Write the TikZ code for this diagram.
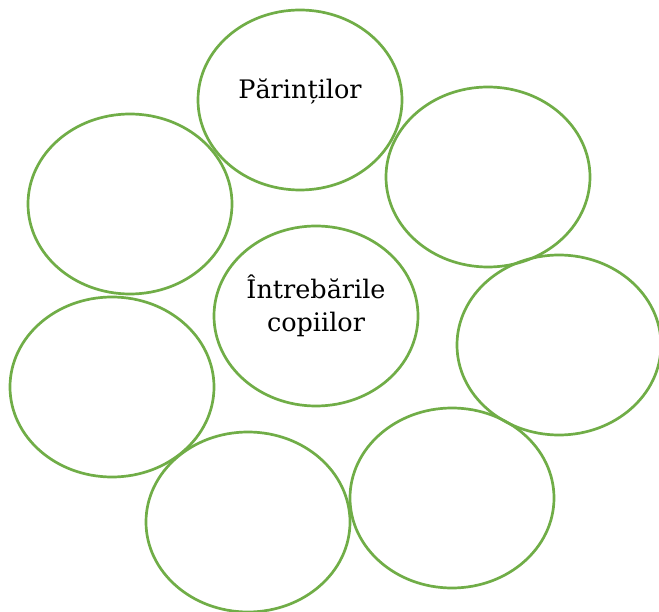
\documentclass[tikz,border=0pt]{standalone}
\usepackage{fontspec}
\setmainfont{DejaVu Serif}
\usetikzlibrary{shapes.geometric}
\definecolor{ogreen}{HTML}{70AD47}
\begin{document}
\begin{tikzpicture}[x=1pt,y=-1pt,
  bubble/.style={draw=ogreen,line width=2.7pt,ellipse,minimum width=204pt,minimum height=180pt,inner sep=0pt},
  label/.style={align=center,inner sep=0pt,font=\fontsize{25.5}{33}\selectfont}]
\useasboundingbox (0,0) rectangle (659,612);
\node[bubble] (top) at (300,100) {};
\node[bubble] (ur) at (488,177) {};
\node[bubble] (ul) at (130,204) {};
\node[bubble] (c) at (316,316) {};
\node[bubble] (r) at (559,345) {};
\node[bubble] (l) at (112,387) {};
\node[bubble] (br) at (452,498) {};
\node[bubble] (b) at (248,522) {};
\node[label] (ttop) at ([yshift=8pt]top.center) {Părinților};
\node[label] (tc) at ([yshift=10pt]c.center) {Întrebările\\copiilor};
\end{tikzpicture}
\end{document}
